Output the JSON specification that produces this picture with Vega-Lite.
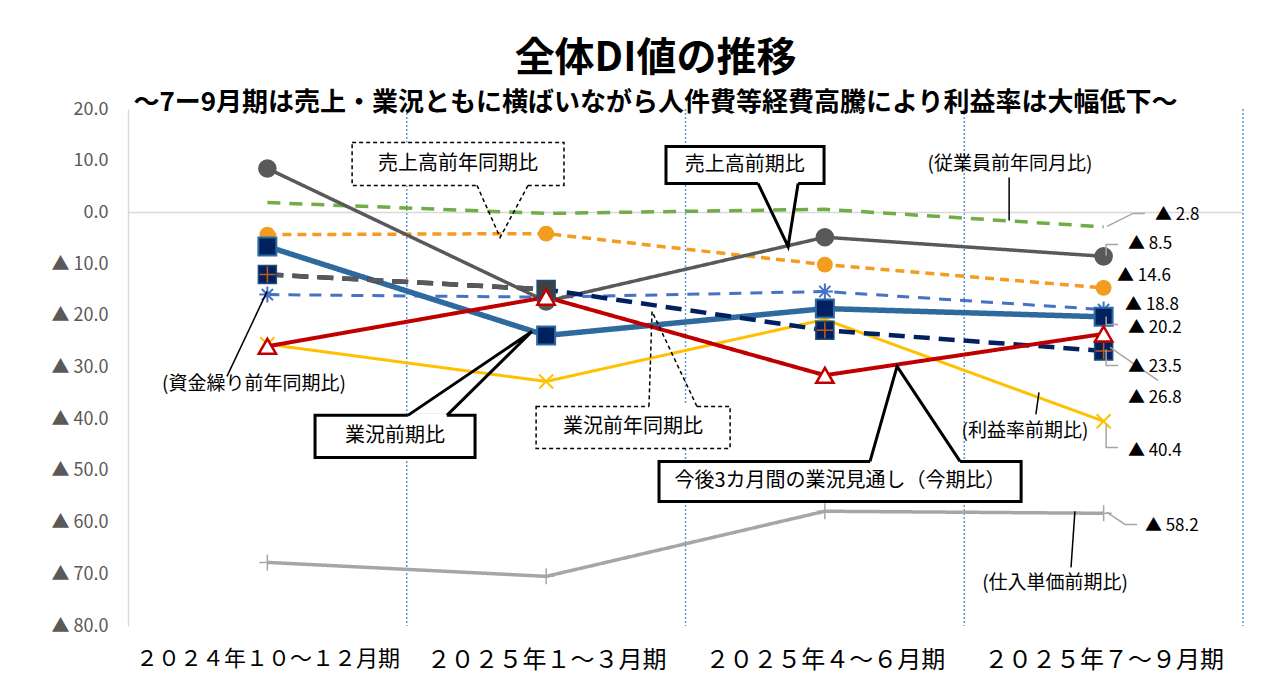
{
  "$schema": "https://vega.github.io/schema/vega-lite/v6.json",
  "width": 1115,
  "height": 517,
  "autosize": {"type": "none"},
  "padding": {"left": 128, "top": 109, "right": 33, "bottom": 69},
  "background": "white",
  "config": {"view": {"stroke": null}, "font": "Noto Sans CJK JP"},
  "title": {
    "text": "全体DI値の推移",
    "subtitle": "～7ー9月期は売上・業況ともに横ばいながら人件費等経費高騰により利益率は大幅低下～",
    "font": "Noto Sans CJK JP",
    "subtitleFont": "Noto Sans CJK JP",
    "fontSize": 40,
    "subtitleFontSize": 26,
    "fontWeight": "bold",
    "subtitleFontWeight": "bold",
    "color": "#000000",
    "subtitleColor": "#000000",
    "anchor": "middle",
    "dx": -30,
    "offset": -16,
    "subtitlePadding": 11
  },
  "datasets": {
    "series": [
      {"s": "仕入単価前期比", "q": 1, "v": -67.7},
      {"s": "仕入単価前期比", "q": 2, "v": -70.4},
      {"s": "仕入単価前期比", "q": 3, "v": -57.8},
      {"s": "仕入単価前期比", "q": 4, "v": -58.2},
      {"s": "従業員前年同月比", "q": 1, "v": 1.9},
      {"s": "従業員前年同月比", "q": 2, "v": -0.2},
      {"s": "従業員前年同月比", "q": 3, "v": 0.6},
      {"s": "従業員前年同月比", "q": 4, "v": -2.8},
      {"s": "利益率前期比", "q": 1, "v": -25.5},
      {"s": "利益率前期比", "q": 2, "v": -32.7},
      {"s": "利益率前期比", "q": 3, "v": -20.7},
      {"s": "利益率前期比", "q": 4, "v": -40.4},
      {"s": "売上高前年同期比", "q": 1, "v": -4.3},
      {"s": "売上高前年同期比", "q": 2, "v": -4.1},
      {"s": "売上高前年同期比", "q": 3, "v": -10.1},
      {"s": "売上高前年同期比", "q": 4, "v": -14.6},
      {"s": "資金繰り前年同期比", "q": 1, "v": -15.9},
      {"s": "資金繰り前年同期比", "q": 2, "v": -16.4},
      {"s": "資金繰り前年同期比", "q": 3, "v": -15.3},
      {"s": "資金繰り前年同期比", "q": 4, "v": -18.8},
      {"s": "売上高前期比", "q": 1, "v": 8.5},
      {"s": "売上高前期比", "q": 2, "v": -17.2},
      {"s": "売上高前期比", "q": 3, "v": -4.8},
      {"s": "売上高前期比", "q": 4, "v": -8.5},
      {"s": "業況前期比", "q": 1, "v": -6.6},
      {"s": "業況前期比", "q": 2, "v": -23.8},
      {"s": "業況前期比", "q": 3, "v": -18.6},
      {"s": "業況前期比", "q": 4, "v": -20.2},
      {"s": "業況前年同期比", "q": 1, "v": -12.0},
      {"s": "業況前年同期比", "q": 2, "v": -14.9},
      {"s": "業況前年同期比", "q": 3, "v": -22.8},
      {"s": "業況前年同期比", "q": 4, "v": -26.8},
      {"s": "今後3カ月間の業況見通し", "q": 1, "v": -25.9},
      {"s": "今後3カ月間の業況見通し", "q": 2, "v": -16.4},
      {"s": "今後3カ月間の業況見通し", "q": 3, "v": -31.5},
      {"s": "今後3カ月間の業況見通し", "q": 4, "v": -23.5}
    ],
    "boxes": [
      {"id": "b1", "k": "dashed", "t": "売上高前年同期比", "x1": 1.304, "x2": 2.064, "y1": 13.54, "y2": 5.22, "tx": 1.684, "ty": 9.38, "g1": 1.752, "g2": 1.935, "gy": 5.22},
      {"id": "b2", "k": "solid", "t": "売上高前期比", "x1": 2.43, "x2": 2.997, "y1": 12.77, "y2": 5.61, "tx": 2.713, "ty": 9.19, "g1": 2.76, "g2": 2.904, "gy": 5.61},
      {"id": "b3", "k": "solid", "t": "業況前期比", "x1": 1.171, "x2": 1.745, "y1": -39.26, "y2": -47.39, "tx": 1.458, "ty": -43.33, "g1": 1.504, "g2": 1.644, "gy": -39.26},
      {"id": "b4", "k": "dashed", "t": "業況前年同期比", "x1": 1.964, "x2": 2.66, "y1": -37.52, "y2": -45.65, "tx": 2.312, "ty": -41.59, "g1": 2.369, "g2": 2.541, "gy": -37.52},
      {"id": "b5", "k": "solid", "t": "今後3カ月間の業況見通し（今期比）", "x1": 2.405, "x2": 3.704, "y1": -48.16, "y2": -55.9, "tx": 3.054, "ty": -52.03, "g1": 3.162, "g2": 3.485, "gy": -48.16}
    ],
    "pointers": [
      {"id": "b1", "k": "dashed", "o": 1, "q": 1.752, "v": 5.22},
      {"id": "b1", "k": "dashed", "o": 2, "q": 1.835, "v": -4.84},
      {"id": "b1", "k": "dashed", "o": 3, "q": 1.935, "v": 5.22},
      {"id": "b2", "k": "solid", "o": 1, "q": 2.76, "v": 5.61},
      {"id": "b2", "k": "solid", "o": 2, "q": 2.868, "v": -6.58},
      {"id": "b2", "k": "solid", "o": 3, "q": 2.904, "v": 5.61},
      {"id": "b3", "k": "solid", "o": 1, "q": 1.504, "v": -39.26},
      {"id": "b3", "k": "solid", "o": 2, "q": 1.949, "v": -23.02},
      {"id": "b3", "k": "solid", "o": 3, "q": 1.644, "v": -39.26},
      {"id": "b4", "k": "dashed", "o": 1, "q": 2.369, "v": -37.52},
      {"id": "b4", "k": "dashed", "o": 2, "q": 2.38, "v": -19.15},
      {"id": "b4", "k": "dashed", "o": 3, "q": 2.541, "v": -37.52},
      {"id": "b5", "k": "solid", "o": 1, "q": 3.162, "v": -48.16},
      {"id": "b5", "k": "solid", "o": 2, "q": 3.259, "v": -29.79},
      {"id": "b5", "k": "solid", "o": 3, "q": 3.485, "v": -48.16}
    ],
    "leaders": [
      {"id": "k1", "k": "black", "o": 1, "q": 0.855, "v": -31.72},
      {"id": "k1", "k": "black", "o": 2, "q": 0.999, "v": -15.28},
      {"id": "k2", "k": "black", "o": 1, "q": 3.661, "v": 6.77},
      {"id": "k2", "k": "black", "o": 2, "q": 3.661, "v": -1.55},
      {"id": "k3", "k": "black", "o": 1, "q": 3.768, "v": -34.82},
      {"id": "k3", "k": "black", "o": 2, "q": 3.757, "v": -39.07},
      {"id": "k4", "k": "black", "o": 1, "q": 3.897, "v": -57.83},
      {"id": "k4", "k": "black", "o": 2, "q": 3.883, "v": -68.67},
      {"id": "g1", "k": "grey", "o": 1, "q": 4.012, "v": -2.71},
      {"id": "g1", "k": "grey", "o": 2, "q": 4.105, "v": -0.19},
      {"id": "g1", "k": "grey", "o": 3, "q": 4.148, "v": -0.19},
      {"id": "g2", "k": "grey", "o": 1, "q": 4.009, "v": -8.32},
      {"id": "g2", "k": "grey", "o": 2, "q": 4.009, "v": -6.19},
      {"id": "g2", "k": "grey", "o": 3, "q": 4.052, "v": -6.19},
      {"id": "g3", "k": "grey", "o": 1, "q": 4.009, "v": -20.12},
      {"id": "g3", "k": "grey", "o": 2, "q": 4.009, "v": -21.66},
      {"id": "g3", "k": "grey", "o": 3, "q": 4.052, "v": -21.66},
      {"id": "g4", "k": "grey", "o": 1, "q": 4.009, "v": -26.5},
      {"id": "g4", "k": "grey", "o": 2, "q": 4.009, "v": -29.59},
      {"id": "g4", "k": "grey", "o": 3, "q": 4.052, "v": -29.59},
      {"id": "g5", "k": "grey", "o": 1, "q": 4.023, "v": -26.11},
      {"id": "g5", "k": "grey", "o": 2, "q": 4.195, "v": -32.5},
      {"id": "g6", "k": "grey", "o": 1, "q": 4.009, "v": -41.01},
      {"id": "g6", "k": "grey", "o": 2, "q": 4.009, "v": -45.45},
      {"id": "g6", "k": "grey", "o": 3, "q": 4.052, "v": -45.45},
      {"id": "g7", "k": "grey", "o": 1, "q": 4.012, "v": -58.03},
      {"id": "g7", "k": "grey", "o": 2, "q": 4.077, "v": -60.35},
      {"id": "g7", "k": "grey", "o": 3, "q": 4.12, "v": -60.35}
    ],
    "notes": [
      {"t": "(資金繰り前年同期比)", "q": 0.952, "v": -33.27},
      {"t": "(従業員前年同月比)", "q": 3.664, "v": 9.28},
      {"t": "(利益率前期比)", "q": 3.718, "v": -42.36},
      {"t": "(仕入単価前期比)", "q": 3.826, "v": -71.76}
    ],
    "vals": [
      {"t": "▲ 2.8", "q": 4.184, "v": -0.58},
      {"t": "▲ 8.5", "q": 4.087, "v": -6.19},
      {"t": "▲ 14.6", "q": 4.048, "v": -12.38},
      {"t": "▲ 18.8", "q": 4.077, "v": -17.9},
      {"t": "▲ 20.2", "q": 4.087, "v": -22.3},
      {"t": "▲ 23.5", "q": 4.087, "v": -29.98},
      {"t": "▲ 26.8", "q": 4.087, "v": -35.98},
      {"t": "▲ 40.4", "q": 4.087, "v": -46.23},
      {"t": "▲ 58.2", "q": 4.148, "v": -60.74}
    ]
  },
  "layer": [
    {
      "data": {"values": [{"q": 1.5}, {"q": 2.5}, {"q": 3.5}, {"q": 4.5}]},
      "mark": {"type": "rule", "color": "#5b9bd5", "strokeDash": [2, 2], "strokeWidth": 1.5},
      "encoding": {
        "x": {"field": "q", "type": "quantitative", "title": null, "scale": {"domain": [0.5, 4.5], "nice": false, "zero": false},
          "axis": {"values": [1, 2, 3, 4], "labelExpr": "['', '２０２４年１０～１２月期', '２０２５年１～３月期', '２０２５年４～６月期', '２０２５年７～９月期'][datum.value]", "domain": false, "ticks": false, "grid": false, "labelFontSize": {"condition": {"test": "datum.value == 1", "value": 22}, "value": 24}, "labelFont": "Noto Sans CJK JP", "labelColor": "#000000", "labelPadding": 22, "labelOverlap": false, "labelBound": false, "labelFlush": false, "labelLimit": 0, "title": null}}
      }
    },
    {
      "data": {"values": [{"v": 0}]},
      "mark": {"type": "rule", "color": "#d9d9d9", "strokeWidth": 1.5},
      "encoding": {
        "y": {"field": "v", "type": "quantitative", "title": null, "scale": {"domain": [-80, 20], "nice": false, "zero": false},
          "axis": {"values": [-80, -70, -60, -50, -40, -30, -20, -10, 0, 10, 20], "labelExpr": "datum.value < 0 ? '▲ ' + format(-datum.value, '.1f') : format(datum.value, '.1f')", "domain": true, "domainColor": "#d9d9d9", "domainWidth": 1.5, "ticks": false, "grid": false, "labelFontSize": 18, "labelFont": "Noto Sans CJK JP", "labelColor": "#595959", "labelPadding": 20, "labelLimit": 0, "title": null}}
      }
    },
    {
      "data": {"name": "series"},
      "mark": {"type": "line"},
      "encoding": {
        "x": {"field": "q", "type": "quantitative", "title": null, "scale": {"domain": [0.5, 4.5], "nice": false, "zero": false}},
        "y": {"field": "v", "type": "quantitative", "title": null, "scale": {"domain": [-80, 20], "nice": false, "zero": false}},
        "color": {"field": "s", "type": "nominal", "legend": null,
          "scale": {"domain": ["仕入単価前期比", "従業員前年同月比", "利益率前期比", "売上高前年同期比", "資金繰り前年同期比", "売上高前期比", "業況前期比", "業況前年同期比", "今後3カ月間の業況見通し"],
            "range": ["#a6a6a6", "#70ad47", "#ffc000", "#f39c1f", "#4472c4", "#595959", "#2e6a9e", "#002060", "#c00000"]}},
        "strokeDash": {"field": "s", "type": "nominal", "legend": null,
          "scale": {"domain": ["仕入単価前期比", "従業員前年同月比", "利益率前期比", "売上高前年同期比", "資金繰り前年同期比", "売上高前期比", "業況前期比", "業況前年同期比", "今後3カ月間の業況見通し"],
            "range": [[1, 0], [13, 9], [1, 0], [9, 6], [12, 9], [1, 0], [1, 0], [16, 9], [1, 0]]}},
        "strokeWidth": {"field": "s", "type": "nominal", "legend": null,
          "scale": {"type": "ordinal", "domain": ["仕入単価前期比", "従業員前年同月比", "利益率前期比", "売上高前年同期比", "資金繰り前年同期比", "売上高前期比", "業況前期比", "業況前年同期比", "今後3カ月間の業況見通し"],
            "range": [3.5, 3.5, 3, 3.5, 3, 3.5, 5.5, 4.5, 4]}}
      }
    },
    {
      "data": {"name": "series"},
      "transform": [{"filter": "datum.s == '業況前年同期比' && datum.q <= 2"}],
      "mark": {"type": "line", "color": "#595959", "strokeWidth": 4.5, "strokeDash": [16, 9]},
      "encoding": {
        "x": {"field": "q", "type": "quantitative", "title": null},
        "y": {"field": "v", "type": "quantitative", "title": null}
      }
    },
    {
      "data": {"name": "series"},
      "transform": [{"filter": "datum.s == '利益率前期比'"}],
      "mark": {"type": "point", "shape": "M-1,-1L1,1M-1,1L1,-1", "filled": false, "stroke": "#ffc000", "strokeWidth": 2, "size": 196, "opacity": 1},
      "encoding": {
        "x": {"field": "q", "type": "quantitative", "title": null},
        "y": {"field": "v", "type": "quantitative", "title": null}
      }
    },
    {
      "data": {"name": "series"},
      "transform": [{"filter": "datum.s == '仕入単価前期比'"}],
      "mark": {"type": "point", "shape": "M-1,0L1,0M0,-1L0,1", "filled": false, "stroke": "#a6a6a6", "strokeWidth": 1.5, "size": 256, "opacity": 1},
      "encoding": {
        "x": {"field": "q", "type": "quantitative", "title": null},
        "y": {"field": "v", "type": "quantitative", "title": null}
      }
    },
    {
      "data": {"name": "series"},
      "transform": [{"filter": "datum.s == '売上高前年同期比'"}],
      "mark": {"type": "point", "shape": "circle", "filled": true, "color": "#f39c1f", "size": 250, "opacity": 1},
      "encoding": {
        "x": {"field": "q", "type": "quantitative", "title": null},
        "y": {"field": "v", "type": "quantitative", "title": null}
      }
    },
    {
      "data": {"name": "series"},
      "transform": [{"filter": "datum.s == '資金繰り前年同期比'"}],
      "mark": {"type": "point", "shape": "M-1,0L1,0M0,-1L0,1M-0.7,-0.7L0.7,0.7M-0.7,0.7L0.7,-0.7", "filled": false, "stroke": "#4472c4", "strokeWidth": 2, "size": 256, "opacity": 1},
      "encoding": {
        "x": {"field": "q", "type": "quantitative", "title": null},
        "y": {"field": "v", "type": "quantitative", "title": null}
      }
    },
    {
      "data": {"name": "series"},
      "transform": [{"filter": "datum.s == '売上高前期比'"}],
      "mark": {"type": "point", "shape": "circle", "filled": true, "color": "#595959", "size": 346, "opacity": 1},
      "encoding": {
        "x": {"field": "q", "type": "quantitative", "title": null},
        "y": {"field": "v", "type": "quantitative", "title": null}
      }
    },
    {
      "data": {"name": "series"},
      "transform": [{"filter": "datum.s == '業況前期比'"}],
      "mark": {"type": "point", "shape": "square", "filled": true, "fill": "#002060", "stroke": "#2e6a9e", "strokeWidth": 2, "size": 324, "opacity": 1},
      "encoding": {
        "x": {"field": "q", "type": "quantitative", "title": null},
        "y": {"field": "v", "type": "quantitative", "title": null}
      }
    },
    {
      "data": {"name": "series"},
      "transform": [{"filter": "datum.s == '業況前年同期比'"}],
      "mark": {"type": "point", "shape": "square", "filled": true, "stroke": "#1f4e79", "strokeWidth": 1.5, "size": 324, "opacity": 1},
      "encoding": {
        "x": {"field": "q", "type": "quantitative", "title": null},
        "y": {"field": "v", "type": "quantitative", "title": null},
        "fill": {"condition": {"test": "datum.q == 2", "value": "#404040"}, "value": "#002060"}
      }
    },
    {
      "data": {"name": "series"},
      "transform": [{"filter": "datum.s == '業況前年同期比' && datum.q != 2"}],
      "mark": {"type": "point", "shape": "M-1,0L1,0M0,-1L0,1", "filled": false, "stroke": "#c55a11", "strokeWidth": 1.5, "size": 256, "opacity": 1},
      "encoding": {
        "x": {"field": "q", "type": "quantitative", "title": null},
        "y": {"field": "v", "type": "quantitative", "title": null}
      }
    },
    {
      "data": {"name": "series"},
      "transform": [{"filter": "datum.s == '今後3カ月間の業況見通し'"}],
      "mark": {"type": "point", "shape": "triangle-up", "filled": true, "fill": "#ffffff", "stroke": "#c00000", "strokeWidth": 2.5, "size": 300, "opacity": 1},
      "encoding": {
        "x": {"field": "q", "type": "quantitative", "title": null},
        "y": {"field": "v", "type": "quantitative", "title": null}
      }
    },
    {
      "data": {"name": "leaders"},
      "transform": [{"filter": "datum.k == 'grey'"}],
      "mark": {"type": "line", "color": "#a6a6a6", "strokeWidth": 1.5},
      "encoding": {
        "x": {"field": "q", "type": "quantitative", "title": null},
        "y": {"field": "v", "type": "quantitative", "title": null},
        "detail": {"field": "id", "type": "nominal"},
        "order": {"field": "o", "type": "quantitative"}
      }
    },
    {
      "data": {"name": "leaders"},
      "transform": [{"filter": "datum.k == 'black'"}],
      "mark": {"type": "line", "color": "#000000", "strokeWidth": 1.5},
      "encoding": {
        "x": {"field": "q", "type": "quantitative", "title": null},
        "y": {"field": "v", "type": "quantitative", "title": null},
        "detail": {"field": "id", "type": "nominal"},
        "order": {"field": "o", "type": "quantitative"}
      }
    },
    {
      "data": {"name": "notes"},
      "mark": {"type": "text", "font": "Noto Sans CJK JP", "fontSize": 19, "align": "center", "baseline": "middle", "color": "#000000"},
      "encoding": {
        "x": {"field": "q", "type": "quantitative", "title": null},
        "y": {"field": "v", "type": "quantitative", "title": null},
        "text": {"field": "t"}
      }
    },
    {
      "data": {"name": "vals"},
      "mark": {"type": "text", "font": "Noto Sans CJK JP", "fontSize": 17, "align": "left", "baseline": "middle", "color": "#000000"},
      "encoding": {
        "x": {"field": "q", "type": "quantitative", "title": null},
        "y": {"field": "v", "type": "quantitative", "title": null},
        "text": {"field": "t"}
      }
    },
    {
      "data": {"name": "boxes"},
      "transform": [{"filter": "datum.k == 'solid'"}],
      "mark": {"type": "rect", "fill": "#ffffff", "stroke": "#000000", "strokeWidth": 3},
      "encoding": {
        "x": {"field": "x1", "type": "quantitative", "title": null},
        "x2": {"field": "x2"},
        "y": {"field": "y1", "type": "quantitative", "title": null},
        "y2": {"field": "y2"}
      }
    },
    {
      "data": {"name": "boxes"},
      "transform": [{"filter": "datum.k == 'dashed'"}],
      "mark": {"type": "rect", "fill": "#ffffff", "stroke": "#000000", "strokeWidth": 1.5, "strokeDash": [4, 3]},
      "encoding": {
        "x": {"field": "x1", "type": "quantitative", "title": null},
        "x2": {"field": "x2"},
        "y": {"field": "y1", "type": "quantitative", "title": null},
        "y2": {"field": "y2"}
      }
    },
    {
      "data": {"name": "boxes"},
      "mark": {"type": "rule", "color": "#ffffff", "strokeWidth": 4},
      "encoding": {
        "x": {"field": "g1", "type": "quantitative", "title": null},
        "x2": {"field": "g2"},
        "y": {"field": "gy", "type": "quantitative", "title": null}
      }
    },
    {
      "data": {"name": "pointers"},
      "transform": [{"filter": "datum.k == 'solid'"}],
      "mark": {"type": "line", "color": "#000000", "strokeWidth": 3, "strokeJoin": "miter"},
      "encoding": {
        "x": {"field": "q", "type": "quantitative", "title": null},
        "y": {"field": "v", "type": "quantitative", "title": null},
        "detail": {"field": "id", "type": "nominal"},
        "order": {"field": "o", "type": "quantitative"}
      }
    },
    {
      "data": {"name": "pointers"},
      "transform": [{"filter": "datum.k == 'dashed'"}],
      "mark": {"type": "line", "color": "#000000", "strokeWidth": 1.5, "strokeDash": [4, 3]},
      "encoding": {
        "x": {"field": "q", "type": "quantitative", "title": null},
        "y": {"field": "v", "type": "quantitative", "title": null},
        "detail": {"field": "id", "type": "nominal"},
        "order": {"field": "o", "type": "quantitative"}
      }
    },
    {
      "data": {"name": "boxes"},
      "mark": {"type": "text", "font": "Noto Sans CJK JP", "fontSize": 20, "align": "center", "baseline": "middle", "color": "#000000"},
      "encoding": {
        "x": {"field": "tx", "type": "quantitative", "title": null},
        "y": {"field": "ty", "type": "quantitative", "title": null},
        "text": {"field": "t"}
      }
    }
  ]
}
